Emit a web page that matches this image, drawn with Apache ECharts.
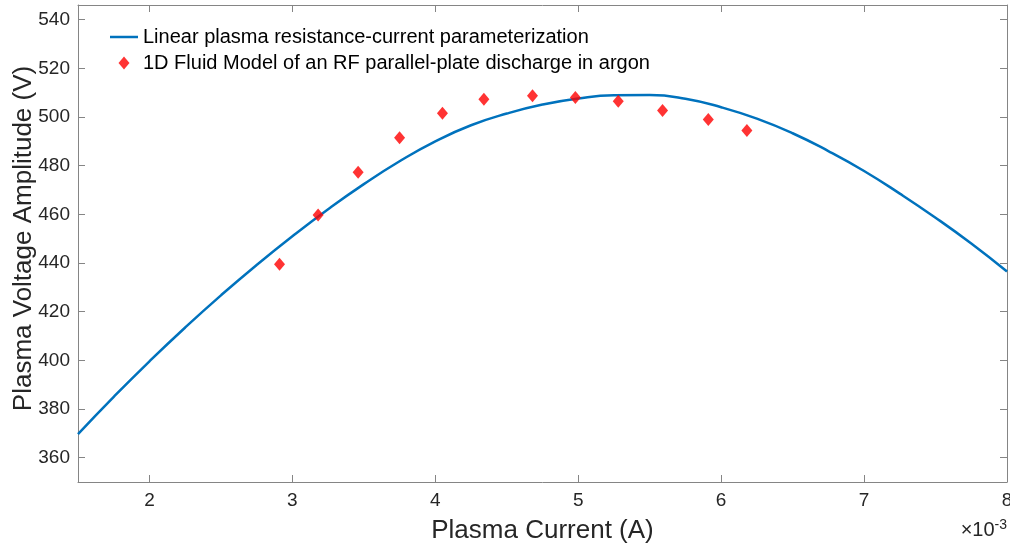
<!DOCTYPE html>
<html>
<head>
<meta charset="utf-8">
<script src="https://cdn.jsdelivr.net/npm/echarts@6/dist/echarts.min.js"></script>
<style>
html, body { margin: 0; padding: 0; background: #fff; }
#chart { width: 1010px; height: 549px; }
</style>
</head>
<body>
<div id="chart"></div>
<script>
// x values in units of 1e-3 A (axis shows the x10^-3 multiplier)
const fitCurrent = [1.5, 1.75, 2.0, 2.25, 2.5, 2.75, 3.0, 3.25, 3.5, 3.75, 4.0, 4.25, 4.5, 4.75, 5.0, 5.25, 5.5, 5.75, 6.0, 6.25, 6.5, 6.75, 7.0, 7.25, 7.5, 7.75, 8.0];
const fitVoltage = [369.7, 385.0, 399.6, 413.5, 426.7, 439.2, 451.0, 462.1, 472.4, 481.8, 490.0, 496.6, 501.4, 505.1, 507.6, 508.9, 509.0, 507.5, 504.0, 499.3, 493.3, 486.0, 477.8, 468.5, 458.6, 448.0, 436.5];

const fluidCurrent = [2.91, 3.18, 3.46, 3.75, 4.05, 4.34, 4.68, 4.98, 5.28, 5.59, 5.91, 6.18];
const fluidVoltage = [439.5, 459.7, 477.3, 491.5, 501.5, 507.3, 508.7, 508.0, 506.5, 502.7, 499.0, 494.4];

const xTicks = [2, 3, 4, 5, 6, 7, 8];
const yTicks = [360, 380, 400, 420, 440, 460, 480, 500, 520, 540];

const seriesNames = [
    'Linear plasma resistance-current parameterization',
    '1D Fluid Model of an RF parallel-plate discharge in argon'
];

const chart = echarts.init(document.getElementById('chart'));

const axisColor = '#858585';
const labelColor = '#262626';
const fontFamily = '"Liberation Sans", Arial, sans-serif';

const baseAxis = {
    type: 'value',
    splitLine: { show: false },
    axisLine: { show: true, lineStyle: { color: axisColor, width: 1 } },
    axisTick: { show: true, inside: true, length: 7, lineStyle: { color: axisColor } }
};

chart.setOption({
    animation: false,
    backgroundColor: '#fff',
    textStyle: { fontFamily: fontFamily },
    grid: { left: 78, right: 3, top: 5, bottom: 67, containLabel: false, outerBoundsMode: 'none' },
    legend: {
        orient: 'vertical',
        left: 105,
        top: 22,
        itemWidth: 28,
        itemHeight: 13,
        itemGap: 6,
        textStyle: { fontSize: 20, color: '#000', fontFamily: fontFamily },
        data: [
            { name: seriesNames[0], icon: 'path://M0,6 L28,6 L28,8.5 L0,8.5 Z' },
            { name: seriesNames[1], icon: 'path://M5.5,0 L11,6.5 L5.5,13 L0,6.5 Z' }
        ]
    },
    xAxis: [
        Object.assign({}, baseAxis, {
            min: 1.5, max: 8,
            position: 'bottom',
            axisTick: Object.assign({}, baseAxis.axisTick, { customValues: xTicks }),
            axisLabel: { customValues: xTicks, fontSize: 19, color: labelColor, margin: 9, fontFamily: fontFamily },
            name: 'Plasma Current (A)',
            nameLocation: 'middle',
            nameGap: 36,
            nameMoveOverlap: false,
            nameTextStyle: { fontSize: 26, color: labelColor, fontFamily: fontFamily }
        }),
        Object.assign({}, baseAxis, {
            min: 1.5, max: 8,
            position: 'top',
            axisTick: Object.assign({}, baseAxis.axisTick, { customValues: xTicks }),
            axisLabel: { show: false }
        })
    ],
    yAxis: [
        Object.assign({}, baseAxis, {
            min: 350, max: 546,
            position: 'left',
            axisTick: Object.assign({}, baseAxis.axisTick, { customValues: yTicks }),
            axisLabel: { customValues: yTicks, fontSize: 19, color: labelColor, margin: 8, fontFamily: fontFamily },
            name: 'Plasma Voltage Amplitude (V)',
            nameLocation: 'middle',
            nameGap: 41,
            nameMoveOverlap: false,
            nameTextStyle: { fontSize: 26, color: labelColor, fontFamily: fontFamily, padding: [0, 0, 0, 10] }
        }),
        Object.assign({}, baseAxis, {
            min: 350, max: 546,
            position: 'right',
            axisTick: Object.assign({}, baseAxis.axisTick, { customValues: yTicks }),
            axisLabel: { show: false }
        })
    ],
    graphic: [{
        type: 'text',
        right: 3,
        top: 518,
        style: {
            text: '×10{sup|-3}',
            fontSize: 20,
            fill: labelColor,
            fontFamily: fontFamily,
            rich: { sup: { fontSize: 14, verticalAlign: 'top', padding: [0, 0, 10, 0], fill: labelColor } }
        }
    }],
    series: [
        {
            name: seriesNames[0],
            type: 'line',
            data: fitCurrent.map((x, i) => [x, fitVoltage[i]]),
            smooth: 0.5,
            symbol: 'none',
            lineStyle: { color: '#0072BD', width: 2.5 },
            itemStyle: { color: '#0072BD' },
            z: 2
        },
        {
            name: seriesNames[1],
            type: 'scatter',
            data: fluidCurrent.map((x, i) => [x, fluidVoltage[i]]),
            symbol: 'diamond',
            symbolSize: [11, 13],
            itemStyle: { color: '#FF0000' },
            z: 3
        }
    ]
});
</script>
</body>
</html>
